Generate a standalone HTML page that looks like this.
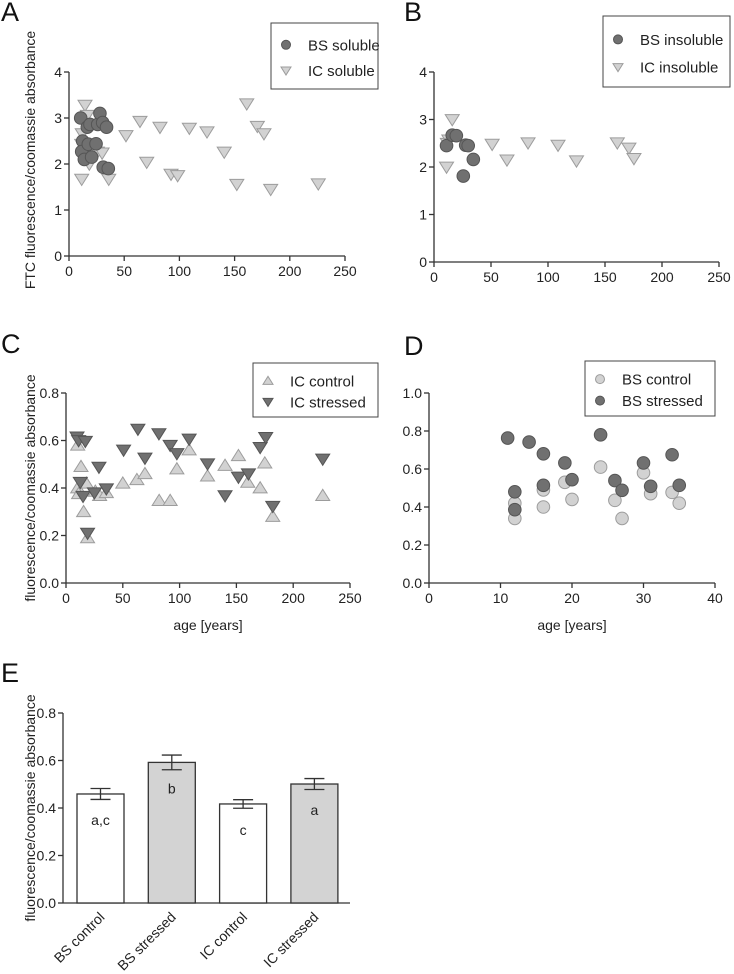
<!DOCTYPE html>
<html><head><meta charset="utf-8"><style>
html,body{margin:0;padding:0;background:#fff}
svg{display:block;font-family:"Liberation Sans",Arial,sans-serif}
</style></head><body>
<svg id="fig" width="734" height="974" viewBox="0 0 734 974" xmlns="http://www.w3.org/2000/svg"></svg>
<script>
// Panel A data
const aBsX=[10.6,12.4,11.5,13.9,16.6,19,17.5,24.5,26,28,30.5,34,31,35.6,20.5];
const aBsY=[3.0,2.5,2.27,2.1,2.8,2.86,2.43,2.44,2.86,3.1,2.9,2.8,1.93,1.9,2.15];
const aIcX=[14.5,16.6,12,11.5,11.5,18.4,21.4,25.7,30,36,51.6,64.3,70.4,82.4,92.4,98.4,109,125,140.6,152,161,170.6,176.6,182.7,225.8];
const aIcY=[3.28,3.06,2.66,2.43,1.67,2.0,2.15,2.26,2.24,1.67,2.62,2.93,2.04,2.8,1.78,1.75,2.78,2.7,2.26,1.56,3.31,2.82,2.66,1.45,1.57];
// Panel B data
const bBsX=[11,16,19.6,27.8,30,34.5,25.7];
const bBsY=[2.45,2.67,2.66,2.46,2.45,2.16,1.81];
const bIcX=[16,13,11,11.7,51,64,82.5,108.8,125,160.8,171,175.4];
const bIcY=[3.0,2.57,2.0,2.5,2.48,2.15,2.51,2.46,2.13,2.51,2.4,2.18];
// Panel C data
const cCtlX=[10.3,10.3,11.1,13.2,17.9,15.5,19,25.8,29.6,35.5,50,62.4,69.5,82,91.7,97.6,108.4,124.6,140,151.8,160,170.9,175,182,226];
const cCtlY=[0.58,0.40,0.376,0.49,0.42,0.30,0.19,0.386,0.368,0.38,0.42,0.435,0.46,0.347,0.347,0.48,0.56,0.45,0.495,0.536,0.424,0.40,0.505,0.28,0.368];
const cStrX=[9.7,11.1,17,12.6,15,19,25,29,35.5,50.7,63.3,69.5,81.8,91.7,97.6,108.4,124.6,140,151.8,160.6,170.9,175.8,182,226];
const cStrY=[0.615,0.60,0.597,0.424,0.365,0.21,0.38,0.488,0.397,0.56,0.648,0.526,0.629,0.58,0.545,0.606,0.502,0.368,0.446,0.46,0.571,0.613,0.323,0.522];
// Panel D data
const dCtlX=[12,12,16,16,19,20,24,26,27,30,31,34,35];
const dCtlY=[0.42,0.34,0.49,0.40,0.53,0.44,0.61,0.435,0.34,0.58,0.47,0.477,0.42];
const dStrX=[11,12,12,14,16,16,19,20,24,26,27,30,31,34,35];
const dStrY=[0.763,0.48,0.386,0.742,0.68,0.514,0.632,0.544,0.78,0.539,0.488,0.632,0.509,0.675,0.514];
// Panel E data
const eCats=["BS control","BS stressed","IC control","IC stressed"];
const eVals=[0.459,0.592,0.417,0.501];
const eErr=[0.023,0.031,0.018,0.023];
const eLetters=["a,c","b","c","a"];
// ticks
const xTicks250=[0,50,100,150,200,250];
const yTicks4=[0,1,2,3,4];
const yTicks08=["0.0","0.2","0.4","0.6","0.8"];
const xTicks40=[0,10,20,30,40];
const yTicks10=["0.0","0.2","0.4","0.6","0.8","1.0"];

const NS="http://www.w3.org/2000/svg";
const svg=document.getElementById('fig');
function mk(tag,attrs,parent,text){const e=document.createElementNS(NS,tag);for(const k in attrs)e.setAttribute(k,attrs[k]);if(text!==undefined)e.textContent=text;(parent||svg).appendChild(e);return e;}
const DARK={f:"#707070",s:"#555"}, LIGHT={f:"#d2d2d2",s:"#9c9c9c"};

function axes(g,p,xt,yt,xmax,ymax,xlabels){
  const sx=v=>p.x0+(v/xmax)*(p.x1-p.x0), sy=v=>p.y0-(v/ymax)*(p.y0-p.y1);
  mk('line',{x1:p.x0,y1:p.y0,x2:p.x1,y2:p.y0,stroke:'#333','stroke-width':1.3},g);
  mk('line',{x1:p.x0,y1:p.y0,x2:p.x0,y2:p.y1,stroke:'#333','stroke-width':1.3},g);
  if(xt) xt.forEach(t=>{const x=sx(+t);mk('line',{x1:x,y1:p.y0,x2:x,y2:p.y0+5,stroke:'#333','stroke-width':1.3},g);
    const tx=mk('text',{x:x,y:p.y0+20,'text-anchor':'middle','font-size':14,fill:'#222'},g,String(t));
    
    });
  yt.forEach(t=>{const y=sy(+t);mk('line',{x1:p.x0-5,y1:y,x2:p.x0,y2:y,stroke:'#333','stroke-width':1.3},g);
    const ty=mk('text',{x:p.x0-7,y:y+5,'text-anchor':'end','font-size':14,fill:'#222'},g,String(t));
    
    });
  return {sx,sy};
}
function circles(g,xs,ys,s,c,name){xs.forEach((v,i)=>{const e=mk('circle',{cx:s.sx(v),cy:s.sy(ys[i]),r:6.3,fill:c.f,stroke:c.s,'stroke-width':1},g);
  
  });}
function tri(g,x,y,down,c,r){const h=r;const pts=down?`${x-h},${y-h*0.7} ${x+h},${y-h*0.7} ${x},${y+h*0.9}`:`${x-h},${y+h*0.7} ${x+h},${y+h*0.7} ${x},${y-h*0.9}`;return mk('polygon',{points:pts,fill:c.f,stroke:c.s,'stroke-width':1},g);}
function tris(g,xs,ys,s,down,c,name){xs.forEach((v,i)=>{const e=tri(g,s.sx(v),s.sy(ys[i]),down,c,7);
  
  });}
function legend(g,x,y,w,h,items){mk('rect',{x:x,y:y,width:w,height:h,fill:'#fff',stroke:'#444','stroke-width':1},g);
  items.forEach((it,i)=>{const cy=y+h*(i===0?0.33:0.72);const lx=x+15;
    let m; if(it.t==='c') m=mk('circle',{cx:lx,cy:cy,r:4.5,fill:it.c.f,stroke:it.c.s},g); else m=tri(g,lx,cy,it.t==='d',it.c,5);
    
    
    const t=mk('text',{x:x+37,y:cy+5.5,'font-size':15,fill:'#222'},g,it.l);
    
    });}
function letter(g,x,y,l){const t=mk('text',{x:x,y:y,'font-size':27,fill:'#111'},g,l);}
function ytitle(g,x,cy,l){const t=mk('text',{x:x,y:cy,'font-size':14,'text-anchor':'middle',fill:'#222',transform:`rotate(-90 ${x} ${cy})`},g,l);}
function xtitle(g,cx,y,l){const t=mk('text',{x:cx,y:y,'font-size':14,'text-anchor':'middle',fill:'#222'},g,l);}

// Panel A
const gA=mk('g',{});  
letter(gA,1,21,'A');
const sA=axes(gA,{x0:69,x1:345,y0:256,y1:72},xTicks250,yTicks4,250,4);
tris(gA,aIcX,aIcY,sA,true,LIGHT,'ic-soluble-point');
circles(gA,aBsX,aBsY,sA,DARK,'bs-soluble-point');
legend(gA,271,23,107,66,[{t:'c',c:DARK,l:'BS soluble'},{t:'d',c:LIGHT,l:'IC soluble'}]);
ytitle(gA,35,160,'FTC fluorescence/coomassie absorbance');

// Panel B
const gB=mk('g',{});  
letter(gB,404,21,'B');
const sB=axes(gB,{x0:434,x1:719,y0:262,y1:72},xTicks250,yTicks4,250,4);
tris(gB,bIcX,bIcY,sB,true,LIGHT,'ic-insoluble-point');
circles(gB,bBsX,bBsY,sB,DARK,'bs-insoluble-point');
legend(gB,603,16,127,71,[{t:'c',c:DARK,l:'BS insoluble'},{t:'d',c:LIGHT,l:'IC insoluble'}]);

// Panel C
const gC=mk('g',{});  
letter(gC,1,353,'C');
const sC=axes(gC,{x0:66,x1:350,y0:583,y1:393},xTicks250,yTicks08,250,0.8);
tris(gC,cCtlX,cCtlY,sC,false,LIGHT,'ic-control-point');
tris(gC,cStrX,cStrY,sC,true,DARK,'ic-stressed-point');
legend(gC,253,363,125,54,[{t:'u',c:LIGHT,l:'IC control'},{t:'d',c:DARK,l:'IC stressed'}]);
ytitle(gC,35,488,'fluorescence/coomassie absorbance');
xtitle(gC,208,630,'age [years]');

// Panel D
const gD=mk('g',{});  
letter(gD,404,355,'D');
const sD=axes(gD,{x0:429,x1:715,y0:583,y1:393},xTicks40,yTicks10,40,1.0);
circles(gD,dCtlX,dCtlY,sD,LIGHT,'bs-control-point');
circles(gD,dStrX,dStrY,sD,DARK,'bs-stressed-point');
legend(gD,585,361,130,55,[{t:'c',c:LIGHT,l:'BS control'},{t:'c',c:DARK,l:'BS stressed'}]);
xtitle(gD,572,630,'age [years]');

// Panel E
const gE=mk('g',{});  
letter(gE,1,682,'E');
const pE={x0:63,x1:350,y0:903,y1:713};
const sE=axes(gE,pE,null,yTicks08,1,0.8);
ytitle(gE,35,808,'fluorescence/coomassie absorbance');
const bw=47, step=(pE.x1-pE.x0-14)/4;
eCats.forEach((c,i)=>{
  const cx=pE.x0+14+bw/2+i*71.3; const top=sE.sy(eVals[i]);
  const r=mk('rect',{x:cx-bw/2,y:top,width:bw,height:pE.y0-top,fill:i%2?'#d3d3d3':'#fff',stroke:'#333','stroke-width':1.3},gE);
  
  
  const yh=sE.sy(eVals[i]+eErr[i]), yl=sE.sy(eVals[i]-eErr[i]);
  const eb=mk('path',{d:`M${cx},${yh}V${yl}M${cx-10},${yh}H${cx+10}M${cx-10},${yl}H${cx+10}`,stroke:'#333','stroke-width':1.3,fill:'none'},gE);
  
  
  const lt=mk('text',{x:cx,y:top+31,'text-anchor':'middle','font-size':14,fill:'#222'},gE,eLetters[i]);
  
  
  const xl=mk('text',{x:cx+5,y:pE.y0+15,'text-anchor':'end','font-size':14,fill:'#222',transform:`rotate(-45 ${cx+5} ${pE.y0+15})`},gE,c);
  
  
});
</script>
</body></html>
